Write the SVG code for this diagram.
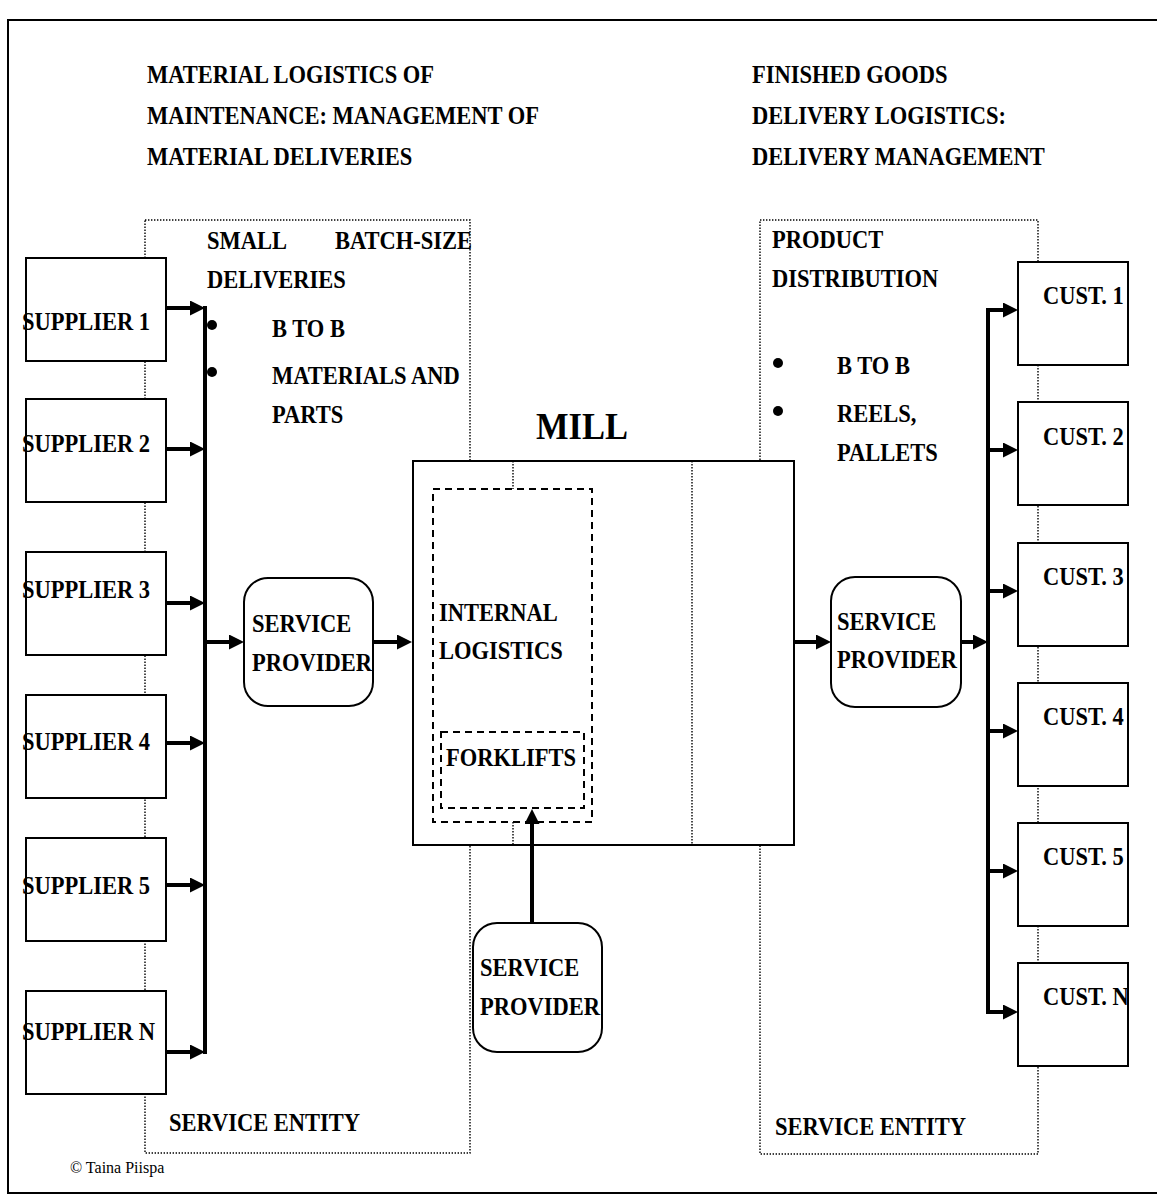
<svg xmlns="http://www.w3.org/2000/svg" width="1157" height="1202" viewBox="0 0 1157 1202">
<style>
  .frame{fill:none;stroke:#000;stroke-width:2}
  .box{fill:#fff;stroke:#000;stroke-width:2}
  .dot{fill:none;stroke:#000;stroke-width:1.4;stroke-dasharray:1.4 1.6}
  .dash{fill:none;stroke:#000;stroke-width:2;stroke-dasharray:7 5}
  .flow{fill:none;stroke:#000;stroke-width:4}
  .arr{marker-end:url(#head)}
  text{font-family:"Liberation Serif","Times New Roman",serif;font-weight:bold;font-size:22.5px;fill:#000}
  .big{font-size:34.5px}
  .note{font-weight:normal;font-size:16px}
</style>
<defs>
  <marker id="head" markerUnits="userSpaceOnUse" markerWidth="16" markerHeight="16" refX="5" refY="7.5" orient="auto">
    <path d="M0,0 L15,7.5 L0,15 Z" fill="#000"/>
  </marker>
  <!-- customer labels are cut off at the right edge of their boxes -->
  <clipPath id="custClip" clipPathUnits="userSpaceOnUse"><rect x="1000" y="240" width="127" height="850"/></clipPath>
</defs>

<!-- page frame -->
<rect class="frame" x="8" y="20" width="1160" height="1173"/>

<!-- section headings -->
<g id="heading-material">
  <text transform="translate(147 83) scale(1 1.13)">MATERIAL LOGISTICS OF</text>
  <text transform="translate(147 124) scale(1 1.13)">MAINTENANCE: MANAGEMENT OF</text>
  <text transform="translate(147 165) scale(1 1.13)">MATERIAL DELIVERIES</text>
</g>
<g id="heading-delivery">
  <text transform="translate(752 83) scale(1 1.13)">FINISHED GOODS</text>
  <text transform="translate(752 124) scale(1 1.13)">DELIVERY LOGISTICS:</text>
  <text transform="translate(752 165) scale(1 1.13)">DELIVERY MANAGEMENT</text>
</g>

<!-- service entity areas (dotted) -->
<g id="entity-inbound">
  <rect class="dot" x="145" y="220" width="325" height="933"/>
  <text transform="translate(207 249) scale(1 1.13)">SMALL</text>
  <text transform="translate(335 249) scale(1 1.13)">BATCH-SIZE</text>
  <text transform="translate(207 288) scale(1 1.13)">DELIVERIES</text>
  <circle cx="212" cy="325" r="5"/>
  <text transform="translate(272 337) scale(1 1.13)">B TO B</text>
  <circle cx="212" cy="372" r="5"/>
  <text transform="translate(272 384) scale(1 1.13)">MATERIALS AND</text>
  <text transform="translate(272 423) scale(1 1.13)">PARTS</text>
  <text transform="translate(169 1131) scale(1 1.13)">SERVICE ENTITY</text>
</g>
<g id="entity-outbound">
  <rect class="dot" x="760" y="220" width="278" height="934"/>
  <text transform="translate(772 248) scale(1 1.13)">PRODUCT</text>
  <text transform="translate(772 287) scale(1 1.13)">DISTRIBUTION</text>
  <circle cx="778" cy="363" r="5"/>
  <text transform="translate(837 374) scale(1 1.13)">B TO B</text>
  <circle cx="778" cy="411" r="5"/>
  <text transform="translate(837 422) scale(1 1.13)">REELS,</text>
  <text transform="translate(837 461) scale(1 1.13)">PALLETS</text>
  <text transform="translate(775 1135) scale(1 1.13)">SERVICE ENTITY</text>
</g>

<!-- suppliers -->
<g id="supplier-1"><rect class="box" x="26" y="258" width="140" height="103"/><text transform="translate(22 330) scale(1 1.13)">SUPPLIER 1</text></g>
<g id="supplier-2"><rect class="box" x="26" y="399" width="140" height="103"/><text transform="translate(22 452) scale(1 1.13)">SUPPLIER 2</text></g>
<g id="supplier-3"><rect class="box" x="26" y="552" width="140" height="103"/><text transform="translate(22 598) scale(1 1.13)">SUPPLIER 3</text></g>
<g id="supplier-4"><rect class="box" x="26" y="695" width="140" height="103"/><text transform="translate(22 750) scale(1 1.13)">SUPPLIER 4</text></g>
<g id="supplier-5"><rect class="box" x="26" y="838" width="140" height="103"/><text transform="translate(22 894) scale(1 1.13)">SUPPLIER 5</text></g>
<g id="supplier-n"><rect class="box" x="26" y="991" width="140" height="103"/><text transform="translate(22 1040) scale(1 1.13)">SUPPLIER N</text></g>

<!-- customers -->
<g id="cust-1"><rect class="box" x="1018" y="262" width="110" height="103"/><g clip-path="url(#custClip)"><text transform="translate(1043 304) scale(1 1.13)">CUST. 1</text></g></g>
<g id="cust-2"><rect class="box" x="1018" y="402" width="110" height="103"/><g clip-path="url(#custClip)"><text transform="translate(1043 445) scale(1 1.13)">CUST. 2</text></g></g>
<g id="cust-3"><rect class="box" x="1018" y="543" width="110" height="103"/><g clip-path="url(#custClip)"><text transform="translate(1043 585) scale(1 1.13)">CUST. 3</text></g></g>
<g id="cust-4"><rect class="box" x="1018" y="683" width="110" height="103"/><g clip-path="url(#custClip)"><text transform="translate(1043 725) scale(1 1.13)">CUST. 4</text></g></g>
<g id="cust-5"><rect class="box" x="1018" y="823" width="110" height="103"/><g clip-path="url(#custClip)"><text transform="translate(1043 865) scale(1 1.13)">CUST. 5</text></g></g>
<g id="cust-n"><rect class="box" x="1018" y="963" width="110" height="103"/><g clip-path="url(#custClip)"><text transform="translate(1043 1005) scale(1 1.13)">CUST. N</text></g></g>

<!-- mill -->
<g id="mill">
  <text class="big" text-anchor="middle" transform="translate(582 439) scale(1 1.13)">MILL</text>
  <rect class="box" x="413" y="461" width="381" height="384"/>
  <path class="dot" d="M513,461 V489 M513,822 V845 M692,461 V845"/>
</g>
<g id="internal-logistics">
  <rect class="dash" x="433" y="489" width="159" height="333"/>
  <text transform="translate(439 621) scale(1 1.13)">INTERNAL</text>
  <text transform="translate(439 659) scale(1 1.13)">LOGISTICS</text>
</g>
<g id="forklifts">
  <rect class="dash" x="441" y="732" width="143" height="76"/>
  <text transform="translate(446 766) scale(1 1.13)">FORKLIFTS</text>
</g>

<!-- service providers -->
<g id="provider-inbound">
  <rect class="box" x="244" y="578" width="129" height="128" rx="24"/>
  <text transform="translate(252 632) scale(1 1.13)">SERVICE</text>
  <text transform="translate(252 671) scale(1 1.13)">PROVIDER</text>
</g>
<g id="provider-outbound">
  <rect class="box" x="831" y="577" width="130" height="130" rx="24"/>
  <text transform="translate(837 630) scale(1 1.13)">SERVICE</text>
  <text transform="translate(837 668) scale(1 1.13)">PROVIDER</text>
</g>
<g id="provider-internal">
  <rect class="box" x="473" y="923" width="129" height="129" rx="24"/>
  <text transform="translate(480 976) scale(1 1.13)">SERVICE</text>
  <text transform="translate(480 1015) scale(1 1.13)">PROVIDER</text>
</g>

<!-- connectors -->
<g id="connectors">
  <path class="flow" d="M205,306 V1054"/>
  <path class="flow arr" d="M166,308 H195"/>
  <path class="flow arr" d="M166,449 H195"/>
  <path class="flow arr" d="M166,603 H195"/>
  <path class="flow arr" d="M166,743 H195"/>
  <path class="flow arr" d="M166,885 H195"/>
  <path class="flow arr" d="M166,1052 H195"/>
  <path class="flow arr" d="M205,642 H234"/>
  <path class="flow arr" d="M373,642 H402"/>
  <path class="flow arr" d="M794,642 H821"/>
  <path class="flow arr" d="M961,642 H978"/>
  <path class="flow" d="M988,308 V1014"/>
  <path class="flow arr" d="M986,310 H1008"/>
  <path class="flow arr" d="M988,450 H1008"/>
  <path class="flow arr" d="M988,591 H1008"/>
  <path class="flow arr" d="M988,731 H1008"/>
  <path class="flow arr" d="M988,871 H1008"/>
  <path class="flow arr" d="M986,1012 H1008"/>
  <path class="flow arr" d="M532,923 V819"/>
</g>

<text class="note" x="70" y="1173">© Taina Piispa</text>
</svg>
